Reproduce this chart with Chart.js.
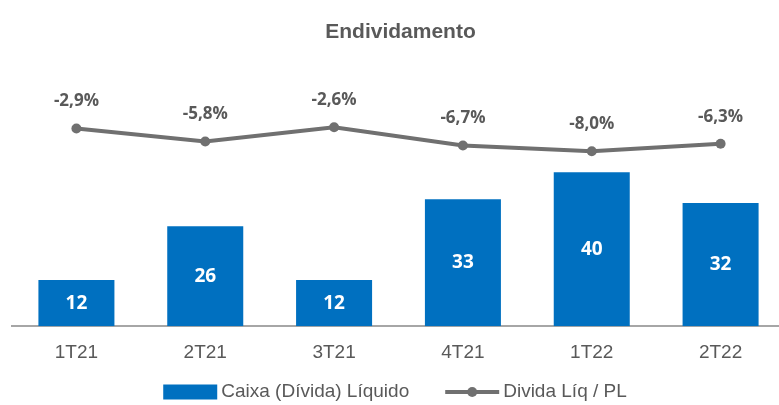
<!DOCTYPE html>
<html>
<head>
<meta charset="utf-8">
<script src="https://cdn.jsdelivr.net/npm/chart.js@4"></script>
<style>
  html, body { margin: 0; padding: 0; background: #fff; overflow: hidden; }
  #wrap { width: 790px; height: 405px; position: relative; }
</style>
</head>
<body>
<div id="wrap"><canvas id="debtChart"></canvas></div>
<script>
// dados do grafico
var quarters = ['1T21', '2T21', '3T21', '4T21', '1T22', '2T22'];
var netCash = [12, 26, 12, 33, 40, 32];
var debtToEquity = [-2.9, -5.8, -2.6, -6.7, -8.0, -6.3];
var seriesNames = ['Caixa (Dívida) Líquido', 'Divida Líq / PL'];

var blue = '#0070C0';
var grey = '#707070';
var textGrey = '#595959';
var sans = '"Liberation Sans", Arial, sans-serif';
var labelFont = '"Open Sans", Lato, sans-serif';

function fmtPct(v) {
    return v.toFixed(1).replace('.', ',') + '%';
}

var valueLabels = {
    id: 'valueLabels',
    afterDatasetsDraw: function (chart) {
        var ctx = chart.ctx;
        ctx.save();
        ctx.textAlign = 'center';
        ctx.textBaseline = 'middle';

        var bars = chart.getDatasetMeta(0);
        ctx.font = 'bold 19px ' + labelFont;
        ctx.fillStyle = '#ffffff';
        bars.data.forEach(function (bar, i) {
            ctx.fillText(netCash[i], bar.x, (bar.y + bar.base) / 2);
        });

        var line = chart.getDatasetMeta(1);
        ctx.font = 'bold 17px ' + labelFont;
        ctx.fillStyle = textGrey;
        line.data.forEach(function (pt, i) {
            ctx.fillText(fmtPct(debtToEquity[i]), pt.x, pt.y - 27);
        });
        ctx.restore();
    }
};

// legenda desenhada a mao, centralizada embaixo
var bottomLegend = {
    id: 'bottomLegend',
    afterDraw: function (chart) {
        var ctx = chart.ctx;
        var iconW = 54, gap = 4, between = 36;
        var y = chart.height - 13;
        ctx.save();
        ctx.font = '19px ' + sans;
        ctx.textBaseline = 'middle';
        ctx.textAlign = 'left';
        var w1 = ctx.measureText(seriesNames[0]).width;
        var w2 = ctx.measureText(seriesNames[1]).width;
        var total = iconW + gap + w1 + between + iconW + gap + w2;
        var x = chart.width / 2 - total / 2;

        ctx.fillStyle = blue;
        ctx.fillRect(x, y - 7.5, iconW, 15);
        ctx.fillStyle = textGrey;
        ctx.fillText(seriesNames[0], x + iconW + gap, y);

        x += iconW + gap + w1 + between;
        ctx.strokeStyle = grey;
        ctx.lineWidth = 4;
        ctx.beginPath();
        ctx.moveTo(x, y);
        ctx.lineTo(x + iconW, y);
        ctx.stroke();
        ctx.fillStyle = grey;
        ctx.beginPath();
        ctx.arc(x + iconW / 2, y, 5, 0, Math.PI * 2);
        ctx.fill();
        ctx.fillStyle = textGrey;
        ctx.fillText(seriesNames[1], x + iconW + gap, y);
        ctx.restore();
    }
};

var ctx = document.getElementById('debtChart');
var debtChart = new Chart(ctx, {
    type: 'bar',
    data: {
        labels: quarters,
        datasets: [
            {
                type: 'bar',
                label: seriesNames[0],
                data: netCash,
                backgroundColor: blue,
                yAxisID: 'y',
                barPercentage: 0.59,
                categoryPercentage: 1,
                order: 2
            },
            {
                type: 'line',
                label: seriesNames[1],
                data: debtToEquity,
                borderColor: grey,
                backgroundColor: grey,
                borderWidth: 4,
                pointRadius: 5,
                pointBackgroundColor: grey,
                pointBorderWidth: 0,
                tension: 0,
                yAxisID: 'y1',
                order: 1
            }
        ]
    },
    options: {
        responsive: true,
        maintainAspectRatio: false,
        animation: false,
        layout: {
            padding: { left: 12, right: 1, top: 0, bottom: 34 }
        },
        scales: {
            x: {
                grid: { display: false },
                border: { display: true, color: '#A6A6A6', width: 2 },
                ticks: { color: textGrey, font: { family: sans, size: 19 }, padding: 7 }
            },
            y: {
                display: false,
                min: 0,
                max: 71.2
            },
            y1: {
                display: false,
                min: -47.4,
                max: 14.3
            }
        },
        plugins: {
            title: {
                display: true,
                text: 'Endividamento',
                color: textGrey,
                font: { family: sans, size: 21, weight: 'bold' },
                padding: { top: 20, bottom: 7 }
            },
            legend: { display: false },
            tooltip: { enabled: false }
        }
    },
    plugins: [valueLabels, bottomLegend]
});
</script>
</body>
</html>
